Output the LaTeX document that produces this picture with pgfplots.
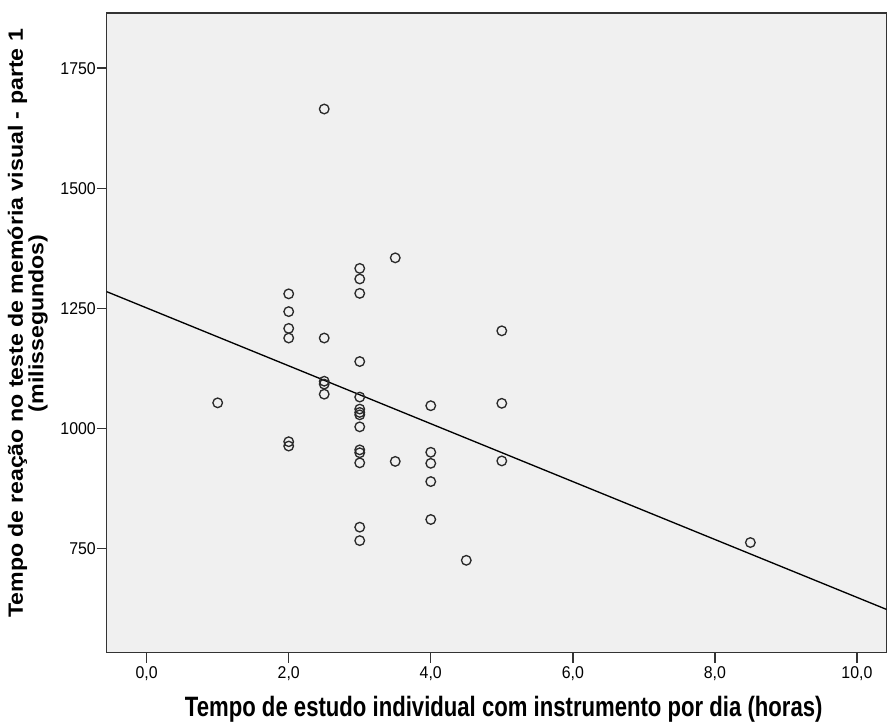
\documentclass[border=0pt]{standalone}
\usepackage{fontspec}
\setmainfont{Liberation Sans}
\newfontfamily\tickfont{Liberation Sans}[FakeStretch=0.93]
\newfontfamily\xlabfont{Liberation Sans}[FakeStretch=0.79]
\newfontfamily\ylabfont{Liberation Sans}[FakeStretch=1.12]
\usepackage{pgfplots}
\pgfplotsset{compat=1.18}
\definecolor{bgc}{HTML}{F0F0F0}
\definecolor{mk}{HTML}{2A2A2A}
\begin{document}
\begin{tikzpicture}
\useasboundingbox (-80pt,-53.5pt) rectangle (585.2pt,489.5pt);
\begin{axis}[
  scale only axis,
  width=585pt, height=479.6pt,
  xmin=-0.563, xmax=10.42,
  ymin=532.5, ymax=1864.6,
  axis background/.style={fill=bgc},
  axis line style={black!80, line width=1.1pt},
  tick align=outside,
  xtick pos=bottom, ytick pos=left,
  major tick length=7.5pt,
  tick style={black!80, line width=1.1pt},
  xtick={0,2,4,6,8,10},
  ytick={750,1000,1250,1500,1750},
  /pgf/number format/assume math mode=true,
  xticklabel style={font={\tickfont\fontsize{12.8}{14}\selectfont}, inner sep=1.5pt, yshift=-1.5pt,
    /pgf/number format/.cd, fixed, fixed zerofill, precision=1, use comma},
  yticklabel style={font={\tickfont\fontsize{12.8}{14}\selectfont}, inner sep=0.5pt,
    /pgf/number format/.cd, fixed, 1000 sep={}},
  xlabel={Tempo de estudo individual com instrumento por dia (horas)},
  xlabel style={font={\xlabfont\bfseries\fontsize{21}{24}\selectfont},
    at={(axis description cs:0.509,0)}, anchor=base, yshift=-47.5pt, inner sep=0pt},
  ylabel={Tempo de reação no teste de memória visual - parte 1\\(milissegundos)},
  ylabel style={font={\ylabfont\bfseries\fontsize{15.5}{13}\selectfont}, align=center,
    at={(axis description cs:0,0.515)}, anchor=south, yshift=44pt, inner sep=0pt},
]
\addplot[only marks, mark=o, mark size=3.6pt, mark options={draw=mk, line width=1pt}]
coordinates {
(1.0,1053)
(2.0,1280) (2.0,1243) (2.0,1208) (2.0,1188) (2.0,972) (2.0,963)
(2.5,1665) (2.5,1188) (2.5,1098) (2.5,1092) (2.5,1071)
(3.0,1333) (3.0,1311) (3.0,1281) (3.0,1139) (3.0,1065) (3.0,1040) (3.0,1033) (3.0,1028)
(3.0,1003) (3.0,955) (3.0,949) (3.0,928) (3.0,794) (3.0,766)
(3.5,1355) (3.5,931)
(4.0,1047) (4.0,950) (4.0,927) (4.0,889) (4.0,810)
(4.5,725)
(5.0,1203) (5.0,1052) (5.0,932)
(8.5,762)
};
\addplot[black, line width=1pt] coordinates {(-0.563,1284.6) (10.42,622.5)};
\end{axis}
\end{tikzpicture}
\end{document}
